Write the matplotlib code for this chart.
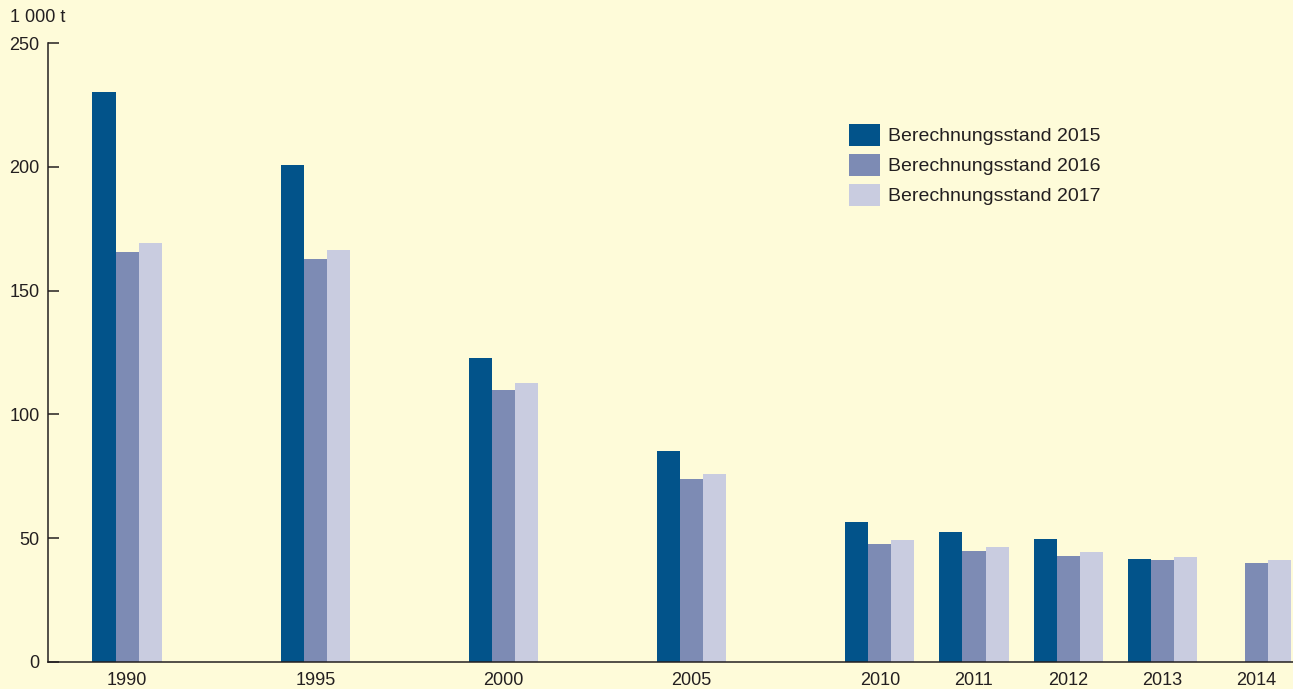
import numpy as np
import matplotlib
matplotlib.use('Agg')
import matplotlib.pyplot as plt
from matplotlib.patches import Patch

plt.rcParams['font.family'] = ['Liberation Sans', 'DejaVu Sans']

# data (1 000 t)
years = ['1990', '1995', '2000', '2005', '2010', '2011', '2012', '2013', '2014']
stand_2015 = [230.2, 200.7, 122.8, 85.2, 56.5, 52.5, 49.7, 41.6, np.nan]
stand_2016 = [165.6, 162.8, 109.9, 73.9, 47.7, 44.8, 42.8, 41.2, 40.0]
stand_2017 = [169.2, 166.4, 112.7, 75.9, 49.3, 46.4, 44.4, 42.4, 41.2]
labels = ['Berechnungsstand 2015', 'Berechnungsstand 2016', 'Berechnungsstand 2017']

BG = '#FEFBD9'
TXT = '#231F20'
colors = ['#02538A', '#7D8BB4', '#C9CCE0']

# 5-year steps get double spacing
xpos = np.array([0, 2, 4, 6, 8, 9, 10, 11, 12])
w = 0.245

fig = plt.figure(figsize=(12.93, 6.89), dpi=100)
fig.patch.set_facecolor(BG)
ax = fig.add_axes([48 / 1293, 27 / 689, 1 - 48 / 1293, 619 / 689])
ax.set_facecolor(BG)

for i, (vals, c) in enumerate(zip([stand_2015, stand_2016, stand_2017], colors)):
    ax.bar(xpos + (i - 1) * w, vals, width=w, color=c, linewidth=0, zorder=2)

ax.set_xlim(-0.84, 12.39)
ax.set_ylim(0, 250)
ax.set_yticks([0, 50, 100, 150, 200, 250])
ax.set_xticks(xpos)
ax.set_xticklabels(years)

ax.spines['top'].set_visible(False)
ax.spines['right'].set_visible(False)
for s in ['left', 'bottom']:
    ax.spines[s].set_color(TXT)
    ax.spines[s].set_linewidth(1.1)
    ax.spines[s].set_zorder(3)

ax.tick_params(axis='y', direction='in', length=8, width=1.1, color=TXT,
               labelsize=13, labelcolor=TXT, pad=6)
ax.tick_params(axis='x', length=0, labelsize=13, labelcolor=TXT, pad=7)

fig.text(10 / 1293, 1 - 18 / 689, '1 000 t', ha='left', va='center',
         fontsize=13, color=TXT)

handles = [Patch(facecolor=c, edgecolor='none') for c in colors]
ax.legend(handles, labels, loc='upper left',
          bbox_to_anchor=((849 - 48) / 1245, (662 - 124) / 619),
          frameon=False, fontsize=14, labelcolor=TXT, borderpad=0,
          borderaxespad=0, handlelength=1.6, handleheight=1.36,
          labelspacing=0.41, handletextpad=0.41)

fig.savefig('out.png', dpi=100, facecolor=BG)
